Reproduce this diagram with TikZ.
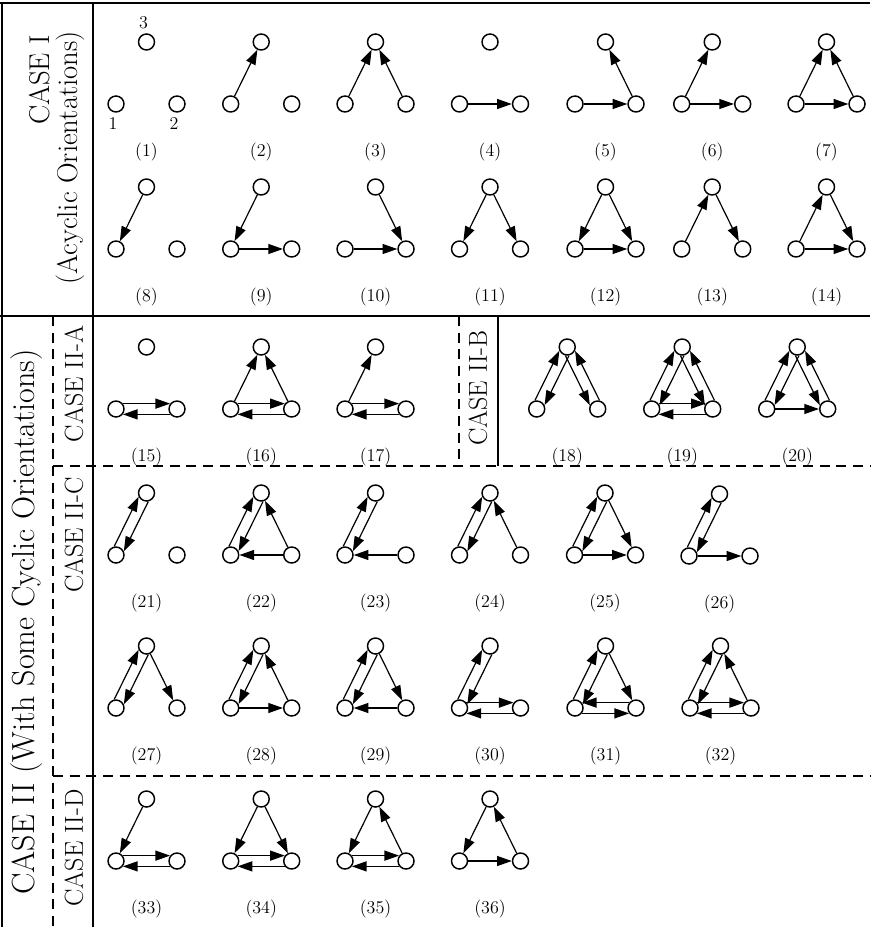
\documentclass[tikz,border=0pt]{standalone}
\usetikzlibrary{arrows.meta,positioning}

\begin{document}
\begin{tikzpicture}[x=0.75pt, y=-0.75pt,
  vtx/.style={circle, draw, line width=1.1pt, minimum size=12pt, inner sep=0pt, fill=white},
  flow/.style={-{Triangle[length=11pt, width=7.5pt]}, line width=0.9pt},
  num/.style={font=\fontsize{13.5}{16}\selectfont},
  case/.style={rotate=90, inner sep=0pt, font=\fontsize{19.5}{23}\selectfont},
  headcase/.style={rotate=90, inner sep=0pt, font=\fontsize{21.5}{25}\selectfont},
  bigcase/.style={rotate=90, inner sep=0pt, font=\fontsize{24}{28}\selectfont},
  rule/.style={line width=1.2pt},
  split/.style={line width=0.9pt, dash pattern=on 7.5pt off 5pt},
]
\useasboundingbox (0,0) rectangle (870,927);

% table rules
\draw[rule] (0,3) -- (870,3);
\draw[rule] (2,3) -- (2,927);
\draw[rule] (93,3) -- (93,927);
\draw[rule] (0,316) -- (870,316);
\draw[rule] (498,316) -- (498,466);
\draw[split] (53,316) -- (53,927);
\draw[split] (459,316) -- (459,466);
\draw[split] (53,466) -- (870,466);
\draw[split] (53,776) -- (870,776);

% case headings
\node[headcase] (caseI) at (40,80) {CASE I};
\node[headcase] (acyc) at (70,158) {(Acyclic Orientations)};
\node[bigcase] (caseII) at (27,622) {CASE II (With Some Cyclic Orientations)};
\node[case] (caseIIA) at (74,384) {CASE II-A};
\node[case] (caseIIB) at (478,388) {CASE II-B};
\node[case] (caseIIC) at (74,535) {CASE II-C};
\node[case] (caseIID) at (74,848) {CASE II-D};

% the 36 graphs: left vertex at (px, py+62), top vertex at (px+30.5, py)
\foreach \g/\px/\py in {1/116/42, 2/230.7/42, 3/345/42, 4/459.5/42, 5/575/42, 6/681.7/42, 7/796/42,
    8/116/187, 9/230.7/187, 10/345/187, 11/459.5/187, 12/575/187, 13/681.7/187, 14/796/187,
    15/116/347, 16/230.7/347, 17/345/347, 18/536.7/347, 19/651.7/347, 20/766.7/347,
    21/116/493, 22/230.7/493, 23/345/493, 24/459.5/493, 25/574.5/493, 26/689/494,
    27/116/646, 28/230.7/646, 29/345/646, 30/459.5/646, 31/575/646, 32/690/646,
    33/116/799, 34/230.7/799, 35/345/799, 36/459.5/799} {
  \node[vtx] (g\g-1) at (\px, \py+62) {};
  \node[vtx] (g\g-2) at (\px+61, \py+62) {};
  \node[vtx] (g\g-3) at (\px+30.5, \py) {};
  \node[num] (n\g) at (\px+30.5, \py+110) {(\g)};
}

% vertex numbers
\node[num, below=0pt of g1-1, xshift=-2.3pt] (v1) {1};
\node[num, below=0pt of g1-2, xshift=-2.3pt] (v2) {2};
\node[num, above=0pt of g1-3, xshift=-2.3pt] (v3) {3};

% single orientations
\foreach \g/\a/\b in {2/1/3, 3/1/3, 3/2/3, 4/1/2, 5/1/2, 5/2/3, 6/1/3, 6/1/2, 7/1/3, 7/2/3, 7/1/2,
    8/3/1, 9/3/1, 9/1/2, 10/3/2, 10/1/2, 11/3/1, 11/3/2, 12/3/1, 12/3/2, 12/1/2,
    13/1/3, 13/3/2, 14/1/3, 14/3/2, 14/1/2, 16/1/3, 16/2/3, 17/1/3, 20/1/2,
    22/2/3, 22/2/1, 23/2/1, 24/2/3, 25/3/2, 25/1/2, 26/1/2, 27/3/2, 28/2/3, 28/1/2,
    29/3/2, 29/2/1, 31/3/2, 32/2/3, 33/3/1, 34/3/1, 34/3/2, 35/3/1, 35/2/3,
    36/3/1, 36/2/3, 36/1/2} {
  \draw[flow] (g\g-\a) -- (g\g-\b);
}

% cyclic pairs
\foreach \g in {15,16,17,19,30,32,33,34,35} {
  \draw[flow] (g\g-1.38) -- (g\g-2.142);
  \draw[flow] (g\g-2.218) -- (g\g-1.322);
}
\draw[flow] (g31-2.142) -- (g31-1.38);
\draw[flow] (g31-1.322) -- (g31-2.218);
\foreach \g in {18,...,32} {
  \draw[flow] (g\g-1.102) -- (g\g-3.206);
  \draw[flow] (g\g-3.282) -- (g\g-1.26);
}
\foreach \g in {18,19,20} {
  \draw[flow] (g\g-2.78) -- (g\g-3.334);
  \draw[flow] (g\g-3.258) -- (g\g-2.154);
}

\end{tikzpicture}
\end{document}
